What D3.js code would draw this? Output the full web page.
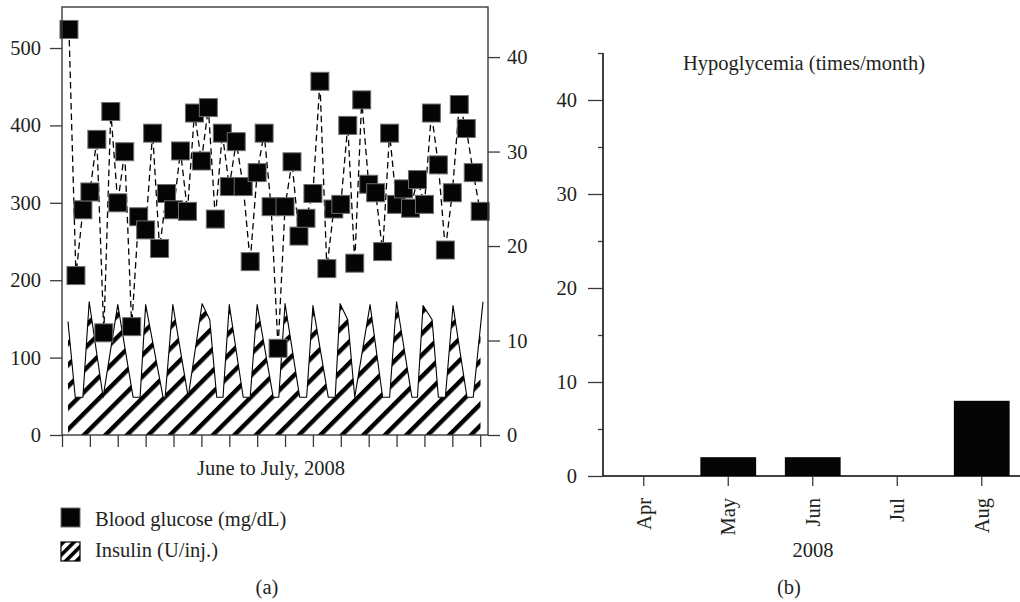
<!DOCTYPE html>
<html><head><meta charset="utf-8">
<script src="https://cdn.jsdelivr.net/npm/d3@7"></script>
<style>
body{margin:0;background:#fff}
svg{display:block}
text{font-family:"Liberation Serif",serif;fill:#231f20}
</style>
</head><body>
<svg id="c" width="1020" height="602"></svg>
<script>
// ---- data ----
const glucoseDays = d3.range(1, 61);
const glucose = [524,206,291,314,382,132,418,300,366,140,
                 282,265,390,241,312,291,367,289,416,354,
                 423,279,390,321,379,321,224,339,390,295,
                 112,295,353,257,280,312,457,215,292,298,
                 400,222,433,324,313,237,390,298,318,293,
                 330,298,416,349,239,313,427,396,339,289];
const insulinDay = [0.86,1.9,3.0,3.9,5.9,8.0,10.2,11.2,12.0,14.5,14.8,15.9,18.1,20.1,21.2,22.2,23.1,24.0,
                    26.0,27.0,28.0,30.3,31.1,32.0,34.1,35.1,36.0,38.2,39.2,39.9,41.0,42.0,44.2,46.0,47.0,48.0,
                    50.2,51.0,51.8,53.1,54.0,55.0,56.1,58.1,59.0,60.4];
const insulinUnits = [12,4,4,14.1,4,13.8,4,4,13.8,4,4,13.8,4,13.9,12.2,4,4,13.8,
                      4,4,13.8,4,4,13.9,4,4,13.7,4,4,13.9,12.2,4,13.8,4,4,14.1,
                      4,4,13.7,12.2,4,4,13.7,4,4,14.1];
const dayTicks = d3.range(0, 61, 4);
const glucoseTicks = [0,100,200,300,400,500];
const insulinTicks = [0,10,20,30,40];
const months = ["Apr","May","Jun","Jul","Aug"];
const hypoglycemia = [0,2,2,0,8];
const hypoTicks = [0,10,20,30,40];
const hypoMinor = [5,15,25,35,45];

const svg = d3.select("#c");
const ink = "#231f20";

// patterns
const defs = svg.append("defs");
const hp = defs.append("pattern").attr("id","hatch").attr("patternUnits","userSpaceOnUse")
  .attr("width",15.2).attr("height",15.2).attr("patternTransform","rotate(45)");
hp.append("rect").attr("width",15.2).attr("height",15.2).attr("fill","#fff");
hp.append("rect").attr("width",4.4).attr("height",15.2).attr("fill","#000");
const hl = defs.append("pattern").attr("id","hatchL").attr("patternUnits","userSpaceOnUse")
  .attr("width",7.5).attr("height",7.5).attr("patternTransform","translate(61,542) rotate(45)");
hl.append("rect").attr("width",7.5).attr("height",7.5).attr("fill","#fff");
hl.append("rect").attr("width",3.6).attr("height",7.5).attr("fill","#000");
defs.append("clipPath").attr("id","insClip").append("rect")
  .attr("x",62).attr("y",0).attr("width",418.5).attr("height",440);

// ---- panel (a) ----
const L = 62, R = 488, T = 7, B = 435;
const x = d3.scaleLinear().domain([0,60]).range([L, 480.2]);
const yG = d3.scaleLinear().domain([0,553]).range([B, T]);
const yI = d3.scaleLinear().domain([0,45.3]).range([B, T]);

// insulin area
const insPts = insulinDay.map((d,i)=>[d, insulinUnits[i]]);
const area = d3.area().x(d=>x(d[0])).y0(yI(0)).y1(d=>yI(d[1]));
const line = d3.line().x(d=>x(d[0])).y(d=>yI(d[1]));
svg.append("path").attr("d",area(insPts)).attr("fill","url(#hatch)").attr("clip-path","url(#insClip)");
svg.append("path").attr("d",line(insPts)).attr("fill","none").attr("stroke","#000").attr("stroke-width",1.1).attr("stroke-linejoin","round");

// glucose
const gPts = glucoseDays.map((d,i)=>[d, glucose[i]]);
svg.append("path").attr("d", d3.line().x(d=>x(d[0])).y(d=>yG(d[1]))(gPts))
  .attr("fill","none").attr("stroke","#000").attr("stroke-width",1.3).attr("stroke-dasharray","6.5,4");
const S = 18;
svg.append("g").selectAll("rect").data(gPts).join("rect")
  .attr("x",d=>x(d[0])-S/2).attr("y",d=>yG(d[1])-S/2).attr("width",S).attr("height",S)
  .attr("fill","#050505").attr("stroke","#6e6e6e").attr("stroke-width",1);

// frame
svg.append("rect").attr("x",L).attr("y",T).attr("width",R-L).attr("height",B-T)
  .attr("fill","none").attr("stroke","#3a3a3a").attr("stroke-width",1.4);

function styleAxis(g){
  g.selectAll("path.domain").remove();
  g.selectAll(".tick line").attr("stroke","#3a3a3a").attr("stroke-width",1.3);
  g.selectAll(".tick text").attr("font-family","Liberation Serif").attr("font-size",20.5).attr("fill",ink);
}
svg.append("g").attr("transform",`translate(${L},0)`)
  .call(d3.axisLeft(yG).tickValues(glucoseTicks).tickSize(12).tickPadding(9)).call(styleAxis);
svg.append("g").attr("transform",`translate(${R},0)`)
  .call(d3.axisRight(yI).tickValues(insulinTicks).tickSize(12).tickPadding(7)).call(styleAxis);
svg.append("g").attr("transform",`translate(0,${B})`)
  .call(d3.axisBottom(x).tickValues(dayTicks).tickSize(12).tickFormat("")).call(styleAxis);

svg.append("text").attr("x",271).attr("y",475).attr("text-anchor","middle").attr("font-size",20.5).text("June to July, 2008");

// legend
svg.append("rect").attr("x",61).attr("y",508).attr("width",19).attr("height",19).attr("fill","#050505").attr("stroke","#6e6e6e");
svg.append("text").attr("x",95).attr("y",526).attr("font-size",20.5).text("Blood glucose (mg/dL)");
svg.append("rect").attr("x",61).attr("y",542).attr("width",19).attr("height",19).attr("fill","url(#hatchL)").attr("stroke","#000").attr("stroke-width",1.2);
svg.append("text").attr("x",95).attr("y",557).attr("font-size",20.5).text("Insulin (U/inj.)");
svg.append("text").attr("x",267).attr("y",594).attr("text-anchor","middle").attr("font-size",20.5).text("(a)");

// ---- panel (b) ----
const BL = 603, BB = 476;
const xb = d3.scaleBand().domain(months).range([601.5,1024]).paddingInner(0.34).paddingOuter(0.17);
const yb = d3.scaleLinear().domain([0,45]).range([BB,53]);

svg.append("g").selectAll("rect").data(months).join("rect")
  .attr("x",d=>xb(d)).attr("width",xb.bandwidth())
  .attr("y",(d,i)=>yb(hypoglycemia[i])).attr("height",(d,i)=>BB-yb(hypoglycemia[i]))
  .attr("fill","#050505");

svg.append("line").attr("x1",BL).attr("x2",BL).attr("y1",yb(45)).attr("y2",BB).attr("stroke","#000").attr("stroke-width",1.5);
svg.append("line").attr("x1",BL).attr("x2",1020).attr("y1",BB).attr("y2",BB).attr("stroke","#000").attr("stroke-width",1.5);

svg.append("g").attr("transform",`translate(${BL},0)`)
  .call(d3.axisLeft(yb).tickValues(hypoTicks).tickSize(15).tickPadding(11)).call(styleAxis);
svg.append("g").attr("transform",`translate(${BL},0)`)
  .call(d3.axisLeft(yb).tickValues(hypoMinor).tickSize(5).tickFormat("")).call(styleAxis);

const xAx = svg.append("g").attr("transform",`translate(0,${BB})`)
  .call(d3.axisBottom(xb).tickSize(10).tickSizeOuter(0)).call(styleAxis);
xAx.selectAll(".tick text")
  .attr("transform","rotate(-90)").attr("text-anchor","end")
  .attr("x",-22).attr("y",0).attr("dy","0.33em");

svg.append("text").attr("x",804).attr("y",70).attr("text-anchor","middle").attr("font-size",20.5).text("Hypoglycemia (times/month)");
svg.append("text").attr("x",813).attr("y",557).attr("text-anchor","middle").attr("font-size",20.5).text("2008");
svg.append("text").attr("x",789).attr("y",594).attr("text-anchor","middle").attr("font-size",20.5).text("(b)");
</script>
</body></html>
